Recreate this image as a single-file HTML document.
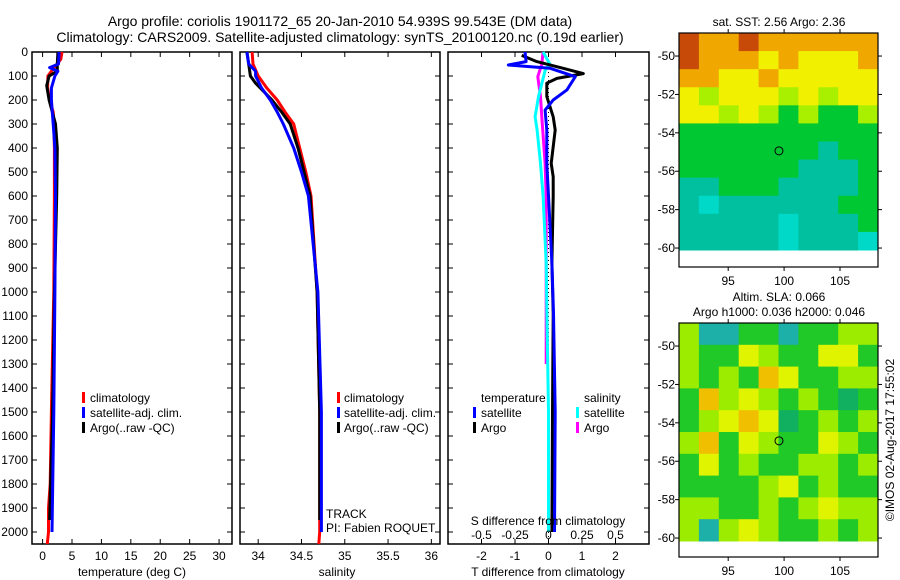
<!DOCTYPE html>
<html><head><meta charset="utf-8">
<style>
body{margin:0;background:#fff;}
svg{display:block;font-family:"Liberation Sans",sans-serif;}
text{fill:#000;}
</style></head>
<body>
<svg id="c" width="900" height="580" viewBox="0 0 900 580">
<text x="340" y="26" font-size="14" text-anchor="middle">Argo profile: coriolis 1901172_65 20-Jan-2010 54.939S 99.543E (DM data)</text>
<text x="340" y="42" font-size="14" text-anchor="middle">Climatology: CARS2009. Satellite-adjusted climatology: synTS_20100120.nc (0.19d earlier)</text>
<g id="plots"></g>
</svg>
<script>
// depth levels (m)
const depthTicks=[0,100,200,300,400,500,600,700,800,900,1000,1100,1200,1300,1400,1500,1600,1700,1800,1900,2000];
// temperature profiles
const tClimD=[0,30,70,100,150,200,250,300,400,600,1000,1500,1800,1900,2000,2050];
const tClimV=[3.3,3.1,1.8,0.9,0.85,1.2,1.8,1.9,2.0,2.0,1.9,1.5,1.3,1.0,1.0,0.8];
const tSatD=[0,50,65,80,100,150,200,300,400,600,1000,1500,2000];
const tSatV=[2.8,2.7,1.2,2.6,2.1,1.5,1.5,1.8,2.1,2.2,2.1,1.9,1.6];
const tArgoD=[0,50,80,100,140,200,300,400,600,1000,1500,1950];
const tArgoV=[2.6,2.5,2.5,1.1,0.7,1.1,2.2,2.5,2.4,2.0,1.7,1.2];
// salinity profiles
const sClimD=[0,50,100,150,200,250,300,400,500,600,1000,1500,2000,2050];
const sClimV=[33.93,33.94,34.0,34.10,34.22,34.31,34.41,34.48,34.55,34.61,34.68,34.71,34.71,34.70];
const sSatD=[0,50,80,100,150,200,250,300,400,500,600,1000,1500,2000];
const sSatV=[33.87,33.89,33.97,33.97,34.04,34.14,34.22,34.29,34.41,34.50,34.58,34.69,34.73,34.73];
const sArgoD=[0,50,100,130,200,250,300,400,500,600,1000,1500,1950];
const sArgoV=[33.87,33.89,33.91,33.97,34.16,34.27,34.37,34.46,34.53,34.60,34.68,34.71,34.71];
// differences
const dTSatD=[0,40,54,68,103,158,200,242,325,464,600,740,880,1090,1500,2000];
const dTSatV=[-0.70,-0.67,-1.2,0.05,0.8,0.55,0.14,-0.1,-0.05,-0.05,0.0,0.05,0.1,0.15,0.2,0.18];
const dTArgoD=[14,40,68,90,110,130,186,270,325,464,520,600,880,1090,1500,2000];
const dTArgoV=[-0.8,-0.35,0.44,1.04,0.25,-0.05,-0.05,0.14,0.2,0.08,0.14,0.14,0.1,0.14,0.12,0.1];
const dSSatD=[0,50,77,186,270,325,464,600,880,1090,1500,2000];
const dSSatV=[-0.04,0.01,-0.025,-0.075,-0.1,-0.085,-0.06,-0.04,-0.017,-0.012,0.0,0.0];
const dSArgoD=[0,50,103,186,270,464,600,1090,1300];
const dSArgoV=[-0.04,-0.05,-0.08,-0.06,-0.05,-0.025,-0.017,-0.017,-0.017];
const tempTicks=[0,5,10,15,20,25,30];
const salTicks=[34,34.5,35,35.5,36];
const salTickLabels=["34","34.5","35","35.5","36"];
const dTTicks=[-2,-1,0,1,2];
const dSTicks=[-0.5,-0.25,0,0.25,0.5];
const dSTickLabels=["-0.5","-0.25","0","0.25","0.5"];
// maps
const lonTicks=[95,100,105];
const latTicks=[-50,-52,-54,-56,-58,-60];
const sstRows=["ROORO OOOOO","ROOOYOYYYO","OOYYOYYYYY","YLYYYLYLYY","YYLYLGLGGL","GGGGGGGGGG","GGGGGGGTGG","GGGGGGTTTG","TTGGGTTTTG","TCTTTTTTGG","TTTTTCTTTG","TTTTTCTTTC"].map(r=>r.replace(/ /g,''));
const slaRows=["LCCGGCGGLL","LGGYLGGYYG","LGLGOYGGLL","GOLYLGLGgG","GLYOYgGLGL","LOGYLGGYLG","GYGLGGLLGL","GGGGLYGLGG","LLGGLGLYLL","LCLYLGGLGL"];
const sstPal={R:"#c84a08",O:"#f0a800",Y:"#f0f000",L:"#a8f000",G:"#00c832",T:"#00c0a0",C:"#00d8c8"};
const slaPal={L:"#9cec00",C:"#1cb0a8",G:"#20c828",Y:"#e0f400",O:"#f0c000",g:"#10b060"};
const argoLon=99.543, argoLat=-54.939;

const NS="http://www.w3.org/2000/svg";
const root=document.getElementById('plots');
function mk(tag,attrs,parent){const e=document.createElementNS(NS,tag);for(const k in attrs)e.setAttribute(k,attrs[k]);(parent||root).appendChild(e);return e;}
const yTop=52,yBot=544,dMax=2050;
function yD(d){return yTop+d/dMax*(yBot-yTop);}

function panel(name,x0,x1,xmin,xmax){
  const sx=v=>x0+(v-xmin)/(xmax-xmin)*(x1-x0);
  const g=mk('g',{});
  
  
  const r=mk('rect',{x:x0,y:yTop,width:x1-x0,height:yBot-yTop,fill:'none',stroke:'#000','stroke-width':1.5},g);
  
  
  depthTicks.forEach(d=>{
    mk('line',{x1:x0,x2:x0+5,y1:yD(d),y2:yD(d),stroke:'#000'},g);
    mk('line',{x1:x1-5,x2:x1,y1:yD(d),y2:yD(d),stroke:'#000'},g);
  });
  return {g,sx};
}
function line(p,D,V,color,name,w){
  const pts=D.map((d,i)=>p.sx(V[i]).toFixed(1)+','+yD(d).toFixed(1)).join(' ');
  const l=mk('polyline',{points:pts,fill:'none',stroke:color,'stroke-width':w||3,'stroke-linejoin':'round'},p.g);
  
  
}
function xticks(p,ticks,labels,name,titleText){
  ticks.forEach((t,i)=>{
    const x=p.sx(t);
    mk('line',{x1:x,x2:x,y1:yBot,y2:yBot-5,stroke:'#000'},p.g);
    mk('line',{x1:x,x2:x,y1:yTop,y2:yTop+5,stroke:'#000'},p.g);
    const tx=mk('text',{x:x,y:560,'font-size':12,'text-anchor':'middle'},p.g);
    tx.textContent=labels?labels[i]:String(t);
    
    
  });
}
function txt(x,y,s,name,size,anchor){
  const t=mk('text',{x:x,y:y,'font-size':size||12,'text-anchor':anchor||'start'});
  t.textContent=s;
  
  
  return t;
}
function legendBar(x,y,color,name){
  const r=mk('rect',{x:x,y:y-10,width:3,height:11,fill:color});
  
  
}

// depth labels
depthTicks.forEach(d=>{
  const t=txt(28,yD(d)+4,String(d),'depth-tick-label',12,'end');
});

// Panel 1
const p1=panel('temperature-panel',32,232,-1.8,32.2);
line(p1,tClimD,tClimV,'#ff0000','temp-climatology-line');
line(p1,tArgoD,tArgoV,'#000000','temp-argo-line');
line(p1,tSatD,tSatV,'#0000ff','temp-satellite-line');
xticks(p1,tempTicks,null,'temperature');
txt(132,576,'temperature (deg C)','temperature-axis-title',12,'middle');
legendBar(82,402,'#ff0000','legend-climatology-swatch');txt(90,402,'climatology','legend-climatology');
legendBar(82,417,'#0000ff','legend-satellite-swatch');txt(90,417,'satellite-adj. clim.','legend-satellite');
legendBar(82,432,'#000000','legend-argo-swatch');txt(90,432,'Argo(..raw -QC)','legend-argo');

// Panel 2
const p2=panel('salinity-panel',240,440,33.79,36.1);
line(p2,sClimD,sClimV,'#ff0000','sal-climatology-line');
line(p2,sArgoD,sArgoV,'#000000','sal-argo-line');
line(p2,sSatD,sSatV,'#0000ff','sal-satellite-line');
xticks(p2,salTicks,salTickLabels,'salinity');
txt(337,576,'salinity','salinity-axis-title',12,'middle');
legendBar(337,402,'#ff0000','legend2-climatology-swatch');txt(344,402,'climatology','legend2-climatology');
legendBar(337,417,'#0000ff','legend2-satellite-swatch');txt(344,417,'satellite-adj. clim.','legend2-satellite');
legendBar(337,432,'#000000','legend2-argo-swatch');txt(344,432,'Argo(..raw -QC)','legend2-argo');
txt(326,518,'TRACK','track-label');
txt(326,532,'PI: Fabien ROQUET','pi-label');

// Panel 3
const p3=panel('difference-panel',448,649,-3,3);
const p3s={g:p3.g,sx:v=>448+(v+0.75)/1.5*201};
mk('line',{x1:p3.sx(0),x2:p3.sx(0),y1:yTop,y2:yBot,stroke:'#000','stroke-dasharray':'1,3'},p3.g);
line(p3s,dSArgoD,dSArgoV,'#ff00ff','sdiff-argo-line');
line(p3s,dSSatD,dSSatV,'#00ffff','sdiff-satellite-line');
line(p3,dTArgoD,dTArgoV,'#000000','tdiff-argo-line');
line(p3,dTSatD,dTSatV,'#0000ff','tdiff-satellite-line');
xticks(p3,dTTicks,null,'tdiff');
dSTicks.forEach((t,i)=>{
  const x=p3s.sx(t);
  mk('line',{x1:x,x2:x,y1:yBot,y2:yBot-4,stroke:'#000'},p3.g);
  const tx=txt(x,539,dSTickLabels[i],'sdiff-tick-label',12,'middle');
});
txt(548,525,'S difference from climatology','sdiff-axis-title',12,'middle');
txt(548,576,'T difference from climatology','tdiff-axis-title',12,'middle');
txt(481,402,'temperature','legend3-temperature-header');
txt(584,402,'salinity','legend3-salinity-header');
legendBar(473,417,'#0000ff','legend3-tsat-swatch');txt(481,417,'satellite','legend3-tsat');
legendBar(473,432,'#000000','legend3-targo-swatch');txt(481,432,'Argo','legend3-targo');
legendBar(576,417,'#00ffff','legend3-ssat-swatch');txt(584,417,'satellite','legend3-ssat');
legendBar(576,432,'#ff00ff','legend3-sargo-swatch');txt(584,432,'Argo','legend3-sargo');

// Maps
function map(name,top,dataBot,bot,rows,pal){
  const x0=679,x1=878,lonMin=90.6,lonMax=108.4,latTop=-48.8,pxPerLat=19.2;
  const sx=l=>x0+(l-lonMin)/(lonMax-lonMin)*(x1-x0);
  const sy=la=>top+(latTop-la)*pxPerLat;
  const g=mk('g',{});
  
  
  const nr=rows.length,nc=rows[0].length,ch=(dataBot-top)/nr,cw=(x1-x0)/nc;
  rows.forEach((row,ri)=>{
    for(let ci=0;ci<nc;ci++){
      const c=mk('rect',{x:x0+ci*cw,y:top+ri*ch,width:cw+0.5,height:ch+0.5,fill:pal[row[ci]]},g);
      
      
    }
  });
  const f=mk('rect',{x:x0,y:top,width:x1-x0,height:bot-top,fill:'none',stroke:'#000','stroke-width':1.2},g);
  
  
  lonTicks.forEach(l=>{
    mk('line',{x1:sx(l),x2:sx(l),y1:top,y2:top-4,stroke:'#000'},g);
    mk('line',{x1:sx(l),x2:sx(l),y1:bot,y2:bot+4,stroke:'#000'},g);
    txt(sx(l),bot+18,String(l),name+'-lon-label',12,'middle');
  });
  latTicks.forEach(la=>{
    mk('line',{x1:x1,x2:x1+4,y1:sy(la),y2:sy(la),stroke:'#000'},g);
    mk('line',{x1:x0,x2:x0-4,y1:sy(la),y2:sy(la),stroke:'#000'},g);
    txt(x0-4,sy(la)+4,String(la),name+'-lat-label',12,'end');
  });
  const m=mk('circle',{cx:sx(argoLon),cy:sy(argoLat),r:4,fill:'none',stroke:'#000'},g);
  
  
}
map('sst-map',33,250,267,sstRows,sstPal);
map('sla-map',323,541,557,slaRows,slaPal);
txt(779,26,'sat. SST: 2.56 Argo: 2.36','sst-map-title',12,'middle');
txt(779,301,'Altim. SLA: 0.066','sla-map-title-1',12,'middle');
txt(779,316,'Argo h1000: 0.036 h2000: 0.046','sla-map-title-2',12,'middle');
const cr=txt(0,0,'©IMOS 02-Aug-2017 17:55:02','imos-credit',12,'middle');
cr.setAttribute('transform','translate(894,440) rotate(-90)');
</script>
</body></html>
